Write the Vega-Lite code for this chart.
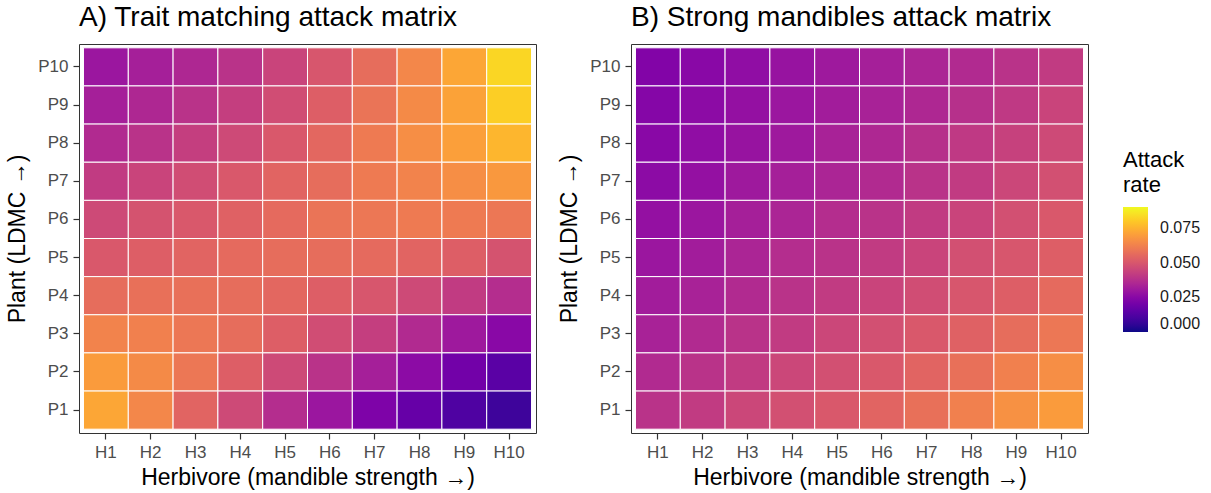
{
  "$schema": "https://vega.github.io/schema/vega-lite/v6.json",
  "padding": {"left": 6, "top": 3, "right": 5, "bottom": 3},
  "background": "white",
  "datasets": {
    "A": [
      {"p":"P10","h":"H1","r":0.0297},{"p":"P10","h":"H2","r":0.0324},{"p":"P10","h":"H3","r":0.0351},{"p":"P10","h":"H4","r":0.0387},{"p":"P10","h":"H5","r":0.0441},{"p":"P10","h":"H6","r":0.0495},{"p":"P10","h":"H7","r":0.0567},{"p":"P10","h":"H8","r":0.0639},{"p":"P10","h":"H9","r":0.0720},{"p":"P10","h":"H10","r":0.0828},
      {"p":"P9","h":"H1","r":0.0324},{"p":"P9","h":"H2","r":0.0351},{"p":"P9","h":"H3","r":0.0387},{"p":"P9","h":"H4","r":0.0423},{"p":"P9","h":"H5","r":0.0468},{"p":"P9","h":"H6","r":0.0522},{"p":"P9","h":"H7","r":0.0585},{"p":"P9","h":"H8","r":0.0648},{"p":"P9","h":"H9","r":0.0711},{"p":"P9","h":"H10","r":0.0810},
      {"p":"P8","h":"H1","r":0.0360},{"p":"P8","h":"H2","r":0.0387},{"p":"P8","h":"H3","r":0.0423},{"p":"P8","h":"H4","r":0.0459},{"p":"P8","h":"H5","r":0.0504},{"p":"P8","h":"H6","r":0.0549},{"p":"P8","h":"H7","r":0.0603},{"p":"P8","h":"H8","r":0.0657},{"p":"P8","h":"H9","r":0.0702},{"p":"P8","h":"H10","r":0.0756},
      {"p":"P7","h":"H1","r":0.0414},{"p":"P7","h":"H2","r":0.0441},{"p":"P7","h":"H3","r":0.0468},{"p":"P7","h":"H4","r":0.0504},{"p":"P7","h":"H5","r":0.0540},{"p":"P7","h":"H6","r":0.0567},{"p":"P7","h":"H7","r":0.0603},{"p":"P7","h":"H8","r":0.0630},{"p":"P7","h":"H9","r":0.0657},{"p":"P7","h":"H10","r":0.0684},
      {"p":"P6","h":"H1","r":0.0459},{"p":"P6","h":"H2","r":0.0486},{"p":"P6","h":"H3","r":0.0504},{"p":"P6","h":"H4","r":0.0531},{"p":"P6","h":"H5","r":0.0558},{"p":"P6","h":"H6","r":0.0585},{"p":"P6","h":"H7","r":0.0594},{"p":"P6","h":"H8","r":0.0603},{"p":"P6","h":"H9","r":0.0603},{"p":"P6","h":"H10","r":0.0594},
      {"p":"P5","h":"H1","r":0.0504},{"p":"P5","h":"H2","r":0.0522},{"p":"P5","h":"H3","r":0.0540},{"p":"P5","h":"H4","r":0.0558},{"p":"P5","h":"H5","r":0.0567},{"p":"P5","h":"H6","r":0.0567},{"p":"P5","h":"H7","r":0.0558},{"p":"P5","h":"H8","r":0.0540},{"p":"P5","h":"H9","r":0.0522},{"p":"P5","h":"H10","r":0.0486},
      {"p":"P4","h":"H1","r":0.0567},{"p":"P4","h":"H2","r":0.0576},{"p":"P4","h":"H3","r":0.0576},{"p":"P4","h":"H4","r":0.0567},{"p":"P4","h":"H5","r":0.0549},{"p":"P4","h":"H6","r":0.0522},{"p":"P4","h":"H7","r":0.0495},{"p":"P4","h":"H8","r":0.0459},{"p":"P4","h":"H9","r":0.0414},{"p":"P4","h":"H10","r":0.0369},
      {"p":"P3","h":"H1","r":0.0630},{"p":"P3","h":"H2","r":0.0621},{"p":"P3","h":"H3","r":0.0594},{"p":"P3","h":"H4","r":0.0567},{"p":"P3","h":"H5","r":0.0522},{"p":"P3","h":"H6","r":0.0468},{"p":"P3","h":"H7","r":0.0423},{"p":"P3","h":"H8","r":0.0360},{"p":"P3","h":"H9","r":0.0306},{"p":"P3","h":"H10","r":0.0252},
      {"p":"P2","h":"H1","r":0.0693},{"p":"P2","h":"H2","r":0.0648},{"p":"P2","h":"H3","r":0.0594},{"p":"P2","h":"H4","r":0.0522},{"p":"P2","h":"H5","r":0.0459},{"p":"P2","h":"H6","r":0.0387},{"p":"P2","h":"H7","r":0.0324},{"p":"P2","h":"H8","r":0.0261},{"p":"P2","h":"H9","r":0.0198},{"p":"P2","h":"H10","r":0.0144},
      {"p":"P1","h":"H1","r":0.0720},{"p":"P1","h":"H2","r":0.0639},{"p":"P1","h":"H3","r":0.0540},{"p":"P1","h":"H4","r":0.0459},{"p":"P1","h":"H5","r":0.0369},{"p":"P1","h":"H6","r":0.0297},{"p":"P1","h":"H7","r":0.0225},{"p":"P1","h":"H8","r":0.0171},{"p":"P1","h":"H9","r":0.0117},{"p":"P1","h":"H10","r":0.0081}
    ],
    "B": [
      {"p":"P10","h":"H1","r":0.0234},{"p":"P10","h":"H2","r":0.0252},{"p":"P10","h":"H3","r":0.0270},{"p":"P10","h":"H4","r":0.0288},{"p":"P10","h":"H5","r":0.0306},{"p":"P10","h":"H6","r":0.0324},{"p":"P10","h":"H7","r":0.0342},{"p":"P10","h":"H8","r":0.0360},{"p":"P10","h":"H9","r":0.0387},{"p":"P10","h":"H10","r":0.0414},
      {"p":"P9","h":"H1","r":0.0243},{"p":"P9","h":"H2","r":0.0261},{"p":"P9","h":"H3","r":0.0279},{"p":"P9","h":"H4","r":0.0297},{"p":"P9","h":"H5","r":0.0315},{"p":"P9","h":"H6","r":0.0333},{"p":"P9","h":"H7","r":0.0351},{"p":"P9","h":"H8","r":0.0378},{"p":"P9","h":"H9","r":0.0405},{"p":"P9","h":"H10","r":0.0441},
      {"p":"P8","h":"H1","r":0.0252},{"p":"P8","h":"H2","r":0.0270},{"p":"P8","h":"H3","r":0.0288},{"p":"P8","h":"H4","r":0.0306},{"p":"P8","h":"H5","r":0.0333},{"p":"P8","h":"H6","r":0.0351},{"p":"P8","h":"H7","r":0.0378},{"p":"P8","h":"H8","r":0.0405},{"p":"P8","h":"H9","r":0.0432},{"p":"P8","h":"H10","r":0.0459},
      {"p":"P7","h":"H1","r":0.0261},{"p":"P7","h":"H2","r":0.0279},{"p":"P7","h":"H3","r":0.0306},{"p":"P7","h":"H4","r":0.0324},{"p":"P7","h":"H5","r":0.0342},{"p":"P7","h":"H6","r":0.0360},{"p":"P7","h":"H7","r":0.0387},{"p":"P7","h":"H8","r":0.0414},{"p":"P7","h":"H9","r":0.0450},{"p":"P7","h":"H10","r":0.0477},
      {"p":"P6","h":"H1","r":0.0279},{"p":"P6","h":"H2","r":0.0297},{"p":"P6","h":"H3","r":0.0324},{"p":"P6","h":"H4","r":0.0342},{"p":"P6","h":"H5","r":0.0369},{"p":"P6","h":"H6","r":0.0387},{"p":"P6","h":"H7","r":0.0414},{"p":"P6","h":"H8","r":0.0441},{"p":"P6","h":"H9","r":0.0477},{"p":"P6","h":"H10","r":0.0504},
      {"p":"P5","h":"H1","r":0.0297},{"p":"P5","h":"H2","r":0.0315},{"p":"P5","h":"H3","r":0.0342},{"p":"P5","h":"H4","r":0.0369},{"p":"P5","h":"H5","r":0.0387},{"p":"P5","h":"H6","r":0.0414},{"p":"P5","h":"H7","r":0.0441},{"p":"P5","h":"H8","r":0.0477},{"p":"P5","h":"H9","r":0.0495},{"p":"P5","h":"H10","r":0.0522},
      {"p":"P4","h":"H1","r":0.0315},{"p":"P4","h":"H2","r":0.0333},{"p":"P4","h":"H3","r":0.0360},{"p":"P4","h":"H4","r":0.0387},{"p":"P4","h":"H5","r":0.0414},{"p":"P4","h":"H6","r":0.0441},{"p":"P4","h":"H7","r":0.0468},{"p":"P4","h":"H8","r":0.0495},{"p":"P4","h":"H9","r":0.0522},{"p":"P4","h":"H10","r":0.0558},
      {"p":"P3","h":"H1","r":0.0333},{"p":"P3","h":"H2","r":0.0360},{"p":"P3","h":"H3","r":0.0387},{"p":"P3","h":"H4","r":0.0414},{"p":"P3","h":"H5","r":0.0450},{"p":"P3","h":"H6","r":0.0477},{"p":"P3","h":"H7","r":0.0504},{"p":"P3","h":"H8","r":0.0531},{"p":"P3","h":"H9","r":0.0567},{"p":"P3","h":"H10","r":0.0594},
      {"p":"P2","h":"H1","r":0.0360},{"p":"P2","h":"H2","r":0.0387},{"p":"P2","h":"H3","r":0.0414},{"p":"P2","h":"H4","r":0.0450},{"p":"P2","h":"H5","r":0.0477},{"p":"P2","h":"H6","r":0.0504},{"p":"P2","h":"H7","r":0.0540},{"p":"P2","h":"H8","r":0.0576},{"p":"P2","h":"H9","r":0.0621},{"p":"P2","h":"H10","r":0.0657},
      {"p":"P1","h":"H1","r":0.0387},{"p":"P1","h":"H2","r":0.0414},{"p":"P1","h":"H3","r":0.0450},{"p":"P1","h":"H4","r":0.0477},{"p":"P1","h":"H5","r":0.0504},{"p":"P1","h":"H6","r":0.0540},{"p":"P1","h":"H7","r":0.0576},{"p":"P1","h":"H8","r":0.0621},{"p":"P1","h":"H9","r":0.0666},{"p":"P1","h":"H10","r":0.0693}
    ]
  },
  "config": {
    "font": "Liberation Sans",
    "view": {"stroke": "#333333", "strokeWidth": 1},
    "axis": {"domain": false, "grid": false, "tickColor": "#333333", "tickSize": 6, "tickWidth": 1.2, "labelColor": "#4d4d4d", "labelFontSize": 17, "labelPadding": 5, "titleFontSize": 23, "titleFontWeight": "normal", "titleColor": "#000000"},
    "title": {"fontSize": 28, "fontWeight": "normal", "anchor": "start", "frame": "group", "color": "#000000", "offset": 12},
    "concat": {"spacing": 21}
  },
  "resolve": {"scale": {"color": "shared"}},
  "hconcat": [
    {
      "width": 457, "height": 389,
      "title": {"text": "A) Trait matching attack matrix"},
      "data": {"name": "A"},
      "mark": {"type": "rect", "stroke": "white", "strokeWidth": 1},
      "encoding": {
        "x": {"field": "h", "type": "nominal", "sort": ["H1","H2","H3","H4","H5","H6","H7","H8","H9","H10"], "scale": {"paddingInner": 0, "paddingOuter": 0.1}, "axis": {"labelAngle": 0, "title": "Herbivore (mandible strength →)", "titlePadding": 6}},
        "y": {"field": "p", "type": "nominal", "sort": ["P10","P9","P8","P7","P6","P5","P4","P3","P2","P1"], "scale": {"paddingInner": 0, "paddingOuter": 0.1}, "axis": {"title": "Plant (LDMC →)", "titlePadding": 8}},
        "color": {"field": "r", "type": "quantitative", "scale": {"scheme": "plasma", "domain": [0, 0.09]},
          "legend": {"title": ["Attack", "rate"], "orient": "none", "legendX": 1044, "legendY": 106, "titleFontSize": 22, "titleFontWeight": "normal", "titleColor": "#000000", "titleLineHeight": 25, "titlePadding": 10, "labelFontSize": 16, "labelColor": "#1a1a1a", "gradientLength": 125, "gradientThickness": 25, "gradientStrokeWidth": 0, "values": [0, 0.025, 0.05, 0.075], "format": ".3f", "labelOffset": 12}}
      }
    },
    {
      "width": 457, "height": 389,
      "title": {"text": "B) Strong mandibles attack matrix"},
      "data": {"name": "B"},
      "mark": {"type": "rect", "stroke": "white", "strokeWidth": 1},
      "encoding": {
        "x": {"field": "h", "type": "nominal", "sort": ["H1","H2","H3","H4","H5","H6","H7","H8","H9","H10"], "scale": {"paddingInner": 0, "paddingOuter": 0.1}, "axis": {"labelAngle": 0, "title": "Herbivore (mandible strength →)", "titlePadding": 6}},
        "y": {"field": "p", "type": "nominal", "sort": ["P10","P9","P8","P7","P6","P5","P4","P3","P2","P1"], "scale": {"paddingInner": 0, "paddingOuter": 0.1}, "axis": {"title": "Plant (LDMC →)", "titlePadding": 8}},
        "color": {"field": "r", "type": "quantitative", "scale": {"scheme": "plasma", "domain": [0, 0.09]}}
      }
    }
  ]
}
